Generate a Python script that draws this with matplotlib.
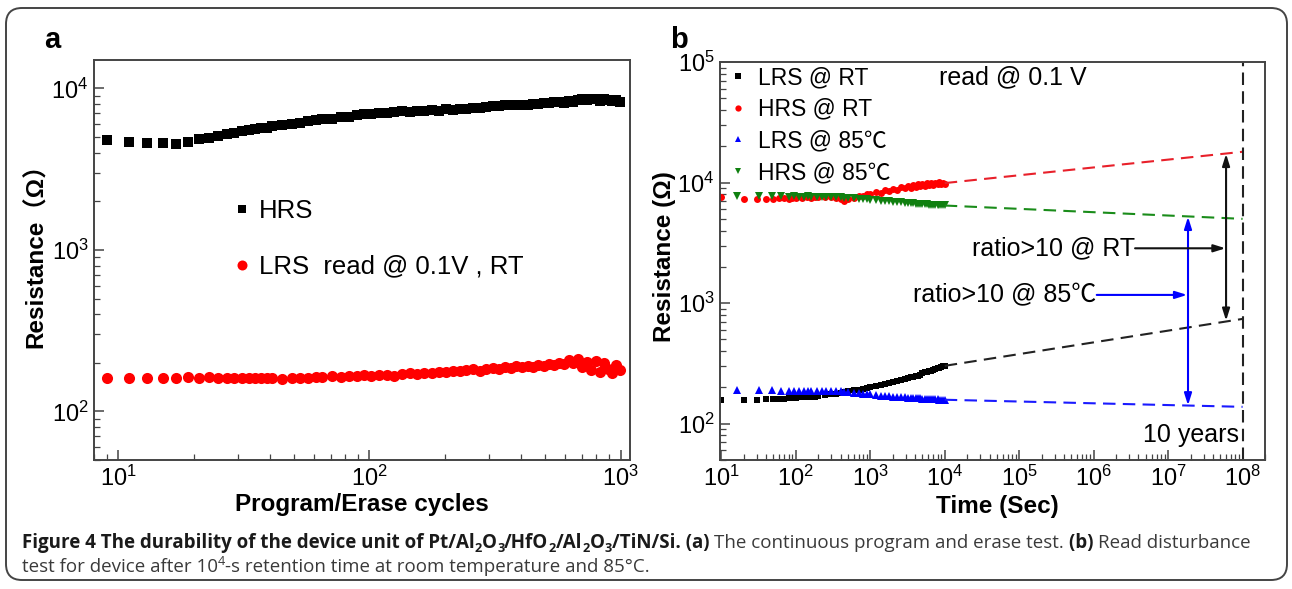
import numpy as np
import matplotlib
matplotlib.use('Agg')
import matplotlib.pyplot as plt
from matplotlib import font_manager
from matplotlib.patches import FancyBboxPatch
from matplotlib.transforms import IdentityTransform
from matplotlib.ticker import LogLocator, NullFormatter

plt.rcParams['font.family'] = ['Liberation Sans', 'Noto Sans CJK SC', 'DejaVu Sans']
plt.rcParams['mathtext.fontset'] = 'custom'
plt.rcParams['mathtext.rm'] = 'Liberation Sans'
plt.rcParams['mathtext.it'] = 'Liberation Sans:italic'
plt.rcParams['mathtext.bf'] = 'Liberation Sans:bold'

# (a) endurance: program/erase cycles
cycles = [9, 11, 13, 15, 17, 19, 21, 23, 25, 27, 29, 31, 33, 35, 37, 39, 41, 45,
          49, 53, 57, 61, 65, 71, 77, 83, 89, 95, 101, 109, 117, 125, 135, 145,
          155, 165, 177, 189, 201, 215, 229, 243, 259, 275, 291, 309, 327, 345,
          365, 385, 405, 427, 449, 471, 495, 519, 543, 569, 595, 621, 649, 677,
          705, 735, 765, 795, 827, 859, 891, 925, 959, 993]
hrs_cycle = [4820, 4640, 4620, 4580, 4510, 4680, 4850, 4900, 5100, 5200, 5280, 5450,
             5520, 5600, 5700, 5650, 5850, 5950, 6050, 6150, 6250, 6350, 6450, 6500,
             6650, 6700, 6800, 6900, 6950, 7050, 7000, 7150, 7200, 7150, 7300, 7250,
             7350, 7300, 7450, 7400, 7500, 7450, 7600, 7550, 7700, 7750, 7800, 7850,
             7900, 7850, 7950, 7950, 8050, 8000, 8150, 8100, 8250, 8200, 8100, 8350,
             8300, 8450, 8550, 8500, 8600, 8550, 8400, 8550, 8450, 8350, 8450, 8300]
lrs_cycle = [161, 162, 162, 161, 162, 163, 162, 163, 162, 161, 161, 160, 161, 160,
             160, 161, 160, 159, 160, 161, 162, 163, 164, 165, 164, 166, 165, 167,
             166, 168, 167, 166, 170, 172, 171, 174, 173, 176, 175, 178, 177, 180,
             182, 179, 184, 186, 183, 188, 185, 190, 187, 192, 189, 195, 191, 197,
             193, 200, 196, 207, 199, 210, 188, 203, 180, 206, 176, 198, 184, 172,
             193, 181]

# (b) read disturbance / retention
t_rt = [10, 20, 30, 40, 50, 60, 70, 80, 90, 100, 120, 140, 160, 180, 200, 250, 300,
        350, 400, 450, 500, 600, 700, 800, 900, 1000, 1200, 1400, 1600, 1800, 2000,
        2300, 2600, 2900, 3200, 3500, 3800, 4100, 4400, 4700, 5000, 5400, 5800, 6200,
        6600, 7000, 7500, 8000, 8500, 9000, 9500, 10000]
lrs_rt = [158, 156, 158, 159, 160, 161, 161, 162, 162, 163, 165, 166, 167, 168, 170,
          173, 176, 178, 181, 183, 185, 189, 192, 195, 198, 200, 204, 208, 212, 216,
          220, 226, 230, 235, 238, 242, 246, 248, 251, 254, 262, 266, 270, 272, 276,
          281, 285, 288, 292, 296, 299, 302]
hrs_rt = [7600, 7300, 7350, 7350, 7300, 7400, 7450, 7350, 7500, 7400, 7450, 7550, 7500,
          7600, 7550, 7650, 7600, 7450, 7250, 7100, 7350, 7500, 7800, 7700, 8100, 8000,
          8400, 8250, 8650, 8500, 8900, 8700, 9150, 8950, 9350, 9100, 9500, 9250, 9650,
          9350, 9750, 9450, 9850, 9550, 9900, 9600, 10000, 9650, 10050, 9700, 10000, 9800]
t_85 = [16, 32, 48, 64, 80, 96, 112, 128, 144, 160, 192, 224, 256, 300, 350, 400, 450,
        500, 600, 700, 800, 900, 1000, 1200, 1400, 1600, 1800, 2000, 2300, 2600, 2900,
        3200, 3500, 3800, 4100, 4400, 4700, 5000, 5400, 5800, 6200, 6600, 7000, 7500,
        8000, 8500, 9000, 9500, 10000]
lrs_85 = [190, 189, 189, 188, 188, 188, 188, 188, 187, 187, 187, 187, 186, 186, 186,
          185, 184, 183, 181, 179, 177, 176, 175, 173, 171, 170, 169, 168, 167, 166,
          165, 164.5, 164, 163.5, 163, 162.5, 162, 161.5, 161, 160.5, 160, 160, 159.5,
          159, 159, 158.5, 158, 158, 158]
hrs_85 = [7800, 7750, 7700, 7700, 7650, 7700, 7650, 7650, 7700, 7650, 7650, 7600, 7600,
          7600, 7550, 7550, 7500, 7450, 7400, 7350, 7300, 7250, 7200, 7150, 7100, 7050,
          7000, 6950, 6900, 6850, 6800, 6780, 6750, 6720, 6700, 6680, 6650, 6630, 6600,
          6580, 6560, 6550, 6530, 6510, 6500, 6490, 6480, 6470, 6460]

# extrapolation out to 10 years
t_fit = [1e4, 1e8]
fit_hrs_rt = [9900, 18000]
fit_hrs_85 = [6450, 5000]
fit_lrs_rt = [302, 740]
fit_lrs_85 = [158, 138]
ten_years = 1e8

W, H = 1292, 589
fig = plt.figure(figsize=(W / 100, H / 100), dpi=100)
fig.patch.set_facecolor('white')

# rounded frame around the whole figure
frame = FancyBboxPatch((6, H - 580), 1281, 572, boxstyle='round,pad=0,rounding_size=16',
                       transform=IdentityTransform(), fc='none', ec='#444444', lw=1.4)
fig.add_artist(frame)


def px_axes(l, t, r, b):
    return fig.add_axes([l / W, 1 - b / H, (r - l) / W, (b - t) / H])


def style(ax):
    for s in ax.spines.values():
        s.set_linewidth(1.4)
        s.set_color('#444444')
    for axis in (ax.xaxis, ax.yaxis):
        axis.set_major_locator(LogLocator(base=10, numticks=30))
        axis.set_minor_locator(LogLocator(base=10, subs=np.arange(2, 10), numticks=300))
        axis.set_minor_formatter(NullFormatter())
    ax.tick_params(which='both', direction='in', color='#444444', labelsize=17, pad=4)
    ax.tick_params(which='major', length=7, width=1.1)
    ax.tick_params(which='minor', length=4, width=0.9)


ax1 = px_axes(94, 60, 630, 460)
ax2 = px_axes(720, 62, 1265, 460)

# ---- panel a
ax1.plot(cycles, hrs_cycle, 's', color='black', ms=6.5, mew=0, label='HRS')
ax1.plot(cycles, lrs_cycle, 'o', color='#ff0000', ms=8, mew=0, label='LRS  read @ 0.1V , RT')
ax1.set_xscale('log')
ax1.set_yscale('log')
ax1.set_xlim(8, 1090)
ax1.set_ylim(50, 15000)
style(ax1)
ax1.legend(loc='upper left', bbox_to_anchor=(0.262, 0.652), frameon=False, fontsize=18.5,
           handlelength=0.6, handletextpad=0.35, labelspacing=1.22, borderpad=0,
           borderaxespad=0, numpoints=1, markerscale=0.9)

# ---- panel b
ax2.plot(t_rt, lrs_rt, 's', color='black', ms=4.5, mew=0, label='LRS @ RT')
ax2.plot(t_rt, hrs_rt, 'o', color='#ff0000', ms=5, mew=0, label='HRS @ RT')
ax2.plot(t_85, lrs_85, '^', color='#0000ff', ms=5.5, mew=0, label='LRS @ 85\u2103')
ax2.plot(t_85, hrs_85, 'v', color='#108010', ms=5.5, mew=0, label='HRS @ 85\u2103')
dash = dict(lw=1.5, dashes=[6, 3.5])
ax2.plot(t_fit, fit_hrs_rt, color='#e8202a', **dash)
ax2.plot(t_fit, fit_hrs_85, color='#1a8c1a', **dash)
ax2.plot(t_fit, fit_lrs_rt, color='#222222', **dash)
ax2.plot(t_fit, fit_lrs_85, color='#1a1aff', **dash)
ax2.axvline(ten_years, color='#222222', lw=1.5, dashes=[6, 3])
ax2.set_xscale('log')
ax2.set_yscale('log')
ax2.set_xlim(9.6, 2e8)
ax2.set_ylim(50, 1e5)
style(ax2)
ax2.legend(loc='upper left', bbox_to_anchor=(0.022, 0.99), frameon=False, fontsize=16.5,
           handlelength=0.5, handletextpad=0.65, labelspacing=0.38, borderpad=0,
           borderaxespad=0, numpoints=1, markerscale=0.9)

ax2.text(8300, 74000, 'read @ 0.1 V', fontsize=18, va='center', ha='left')
ax2.text(9e7, 80, '10 years', fontsize=18, va='center', ha='right')

# on/off window arrows at 10 years
ax2.annotate('', xy=(6e7, 17300), xytext=(6e7, 715),
             arrowprops=dict(arrowstyle='<|-|>,head_length=0.7,head_width=0.22',
                             color='#111111', lw=1.5, shrinkA=0, shrinkB=0))
ax2.annotate('', xy=(1.85e7, 5200), xytext=(1.85e7, 142),
             arrowprops=dict(arrowstyle='<|-|>,head_length=0.7,head_width=0.22',
                             color='#0000ff', lw=1.5, shrinkA=0, shrinkB=0))
ax2.annotate('', xy=(5.9e7, 2850), xytext=(3.6e6, 2850),
             arrowprops=dict(arrowstyle='-|>,head_length=0.7,head_width=0.22',
                             color='#111111', lw=1.5, shrinkA=0, shrinkB=0))
ax2.annotate('', xy=(1.8e7, 1170), xytext=(1.1e6, 1170),
             arrowprops=dict(arrowstyle='-|>,head_length=0.7,head_width=0.22',
                             color='#0000ff', lw=1.5, shrinkA=0, shrinkB=0))
ax2.text(3.6e6, 2850, 'ratio>10 @ RT', fontsize=18, va='center', ha='right')
ax2.text(1.1e6, 1170, 'ratio>10 @ 85\u2103', fontsize=18, va='center', ha='right')

# axis labels and panel letters
lab = dict(fontsize=17.5, fontweight='bold')
fig.text(362 / W, 1 - 505 / H, 'Program/Erase cycles', ha='center', va='center', **lab)
fig.text(997 / W, 1 - 507 / H, 'Time (Sec)', ha='center', va='center', **lab)
fig.text(36 / W, 1 - 250 / H, 'Resistance\uff08\u03a9\uff09', rotation=90, ha='center',
         va='center', **lab)
fig.text(664 / W, 1 - 257 / H, 'Resistance (\u03a9)', rotation=90, ha='center',
         va='center', **lab)
fig.text(52 / W, 1 - 40 / H, 'a', fontsize=21, fontweight='bold', ha='center', va='center')
fig.text(679 / W, 1 - 40 / H, 'b', fontsize=21, fontweight='bold', ha='center', va='center')

# caption, built piece by piece so bold/regular and sub/superscripts line up
avail = {f.name for f in font_manager.fontManager.ttflist}
cap_choices = ['Open Sans', 'Noto Sans', 'Lato']
cap_font = [next((n for n in cap_choices if n in avail), 'Liberation Sans'), 'DejaVu Sans']

line1 = [('Figure 4 The durability of the device unit of Pt/Al', 'bold', 0),
         ('2', 'bold', -1), ('O', 'bold', 0), ('3', 'bold', -1), ('/HfO', 'bold', 0),
         ('2', 'bold', -1), ('/Al', 'bold', 0), ('2', 'bold', -1), ('O', 'bold', 0),
         ('3', 'bold', -1), ('/TiN/Si. (a) ', 'bold', 0),
         ('The continuous program and erase test. ', 'normal', 0),
         ('(b) ', 'bold', 0), ('Read disturbance', 'normal', 0)]
line2 = [('test for device after 10', 'normal', 0), ('4', 'normal', 1),
         ('-s retention time at room temperature and 85\u00b0C.', 'normal', 0)]

renderer = fig.canvas.get_renderer()


def put_line(pieces, x0, base, size):
    x = x0
    drawn = []
    for txt, wt, shift in pieces:
        s = size if shift == 0 else size * 0.68
        y = base + {0: 0, -1: 0.28 * size, 1: -0.55 * size}[shift]
        t = fig.text(x / W, 1 - y / H, txt, family=cap_font, fontsize=s, fontweight=wt,
                     color='#1a1a1a' if wt == 'bold' else '#3a3a3a', ha='left',
                     va='baseline')
        x += t.get_window_extent(renderer).width
        drawn.append(t)
    return drawn, x - x0


# size the caption so the first line runs across the frame
trial, width = put_line(line1, 22, 548, 13)
for t in trial:
    t.remove()
cap_size = 13 * (1242 - 22) / width
put_line(line1, 22, 548, cap_size)
put_line(line2, 22, 572, cap_size)

fig.savefig('out.png', dpi=100)
